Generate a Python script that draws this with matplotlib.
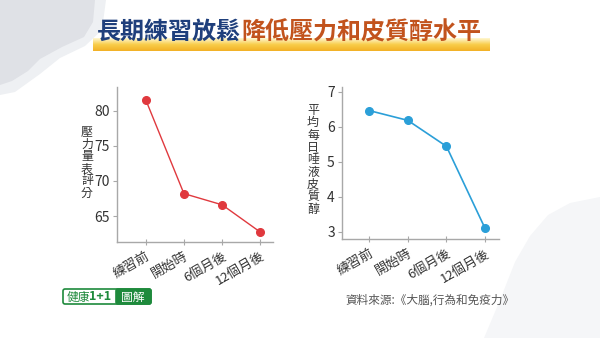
import matplotlib
matplotlib.use("Agg")
import matplotlib.pyplot as plt
import numpy as np
from matplotlib.patches import Polygon, FancyBboxPatch
from matplotlib.colors import LinearSegmentedColormap

plt.rcParams['font.family'] = ['Noto Sans CJK TC', 'DejaVu Sans']

categories = ["練習前", "開始時", "6個月後", "12個月後"]
stress_scores = [81.6, 68.2, 66.6, 62.7]
cortisol_levels = [6.46, 6.18, 5.44, 3.1]
stress_ticks = [65, 70, 75, 80]
cortisol_ticks = [3, 4, 5, 6, 7]
stress_label = "壓力量表評分"
cortisol_label = "平均每日唾液皮質醇"
title_a = "長期練習放鬆"
title_b = "降低壓力和皮質醇水平"
source = "資料來源:《大腦,行為和免疫力》"

W, H = 600, 338
fig = plt.figure(figsize=(6, 3.38), dpi=100)
fig.patch.set_facecolor('white')

def fx(x):
    return x / W
def fy(y):
    return 1 - y / H

# background decorations
bg = fig.add_axes([0, 0, 1, 1], zorder=-10)
bg.set_xlim(0, W); bg.set_ylim(H, 0); bg.axis('off')
light = [(0, 0), (106, 0), (102, 30), (85, 46), (60, 58), (40, 74), (15, 92), (0, 95)]
bg.add_patch(Polygon(light, closed=True, fc='#eef0f3', ec='none'))
dark = [(0, 0), (95, 0), (93, 22), (84, 37), (62, 47), (40, 59), (28, 71), (12, 81), (0, 85)]
bg.add_patch(Polygon(dark, closed=True, fc='#dfe1e6', ec='none'))
br = [(484, 338), (500, 300), (515, 262), (530, 236), (548, 215), (570, 203), (600, 197), (600, 338)]
bg.add_patch(Polygon(br, closed=True, fc='#f5f6f8', ec='none'))

# title highlight bar
bar = fig.add_axes([fx(93), fy(51), fx(397), 13 / H], zorder=-5)
grad = np.linspace(0, 1, 50).reshape(-1, 1)
cm = LinearSegmentedColormap.from_list('g', ['#fff7d2', '#f9cd4a', '#f2b126'])
bar.imshow(grad, aspect='auto', cmap=cm, extent=[0, 1, 0, 1], origin='upper')
bar.axis('off')

fig.text(fx(241), fy(32), title_a, ha='right', va='center', fontsize=17.3,
         fontweight='bold', color='#1f3f7c')
fig.text(fx(241), fy(32), title_b, ha='left', va='center', fontsize=17.3,
         fontweight='bold', color='#c2531d')

def style_axis(ax):
    for s in ['top', 'right']:
        ax.spines[s].set_visible(False)
    for s in ['left', 'bottom']:
        ax.spines[s].set_color('#a8a8a8')
        ax.spines[s].set_linewidth(1.0)
    ax.tick_params(axis='y', colors='#a8a8a8', labelcolor='#333333',
                   labelsize=10, length=3, width=0.8, pad=2)
    ax.tick_params(axis='x', colors='#a8a8a8', labelcolor='#333333',
                   labelsize=9.5, length=5, width=0.8, direction='inout', pad=3)
    ax.set_facecolor('none')
    xs = np.arange(len(categories))
    ax.set_xticks(xs)
    ax.set_xticklabels(categories, rotation=30, ha='right', va='top',
                       rotation_mode='anchor')

x = np.arange(len(categories))
ax1 = fig.add_axes([fx(117), fy(242), fx(273 - 117), (242 - 87) / H])
ax1.plot(x, stress_scores, color='#e0393e', lw=1.0, marker='o', ms=5.5)
ax1.set_xlim(-0.75, 3.33)
ax1.set_ylim(61.3, 83.4)
ax1.set_yticks(stress_ticks)
style_axis(ax1)

ax2 = fig.add_axes([fx(341.7), fy(239.3), fx(499 - 341.7), (239.3 - 86.7) / H])
ax2.plot(x, cortisol_levels, color='#2b9fd8', lw=1.2, marker='o', ms=5.5)
ax2.set_xlim(-0.71, 3.36)
ax2.set_ylim(2.79, 7.14)
ax2.set_yticks(cortisol_ticks)
style_axis(ax2)

# stacked vertical y labels
def vlabel(text, xc, ytop, pitch, size):
    for i, ch in enumerate(text):
        fig.text(fx(xc), fy(ytop + pitch * (i + 0.5)), ch, ha='center', va='center',
                 fontsize=size, color='#333333')

vlabel(stress_label, 87, 126, 12.2, 8.6)
vlabel(cortisol_label, 313, 104, 12.4, 8.6)

# source
fig.text(fx(345), fy(300), source, ha='left', va='center', fontsize=8.4, color='#555555')

# logo
green = '#1e8a3c'
logo = fig.add_axes([0, 0, 1, 1], zorder=5)
logo.set_xlim(0, W); logo.set_ylim(H, 0); logo.axis('off')
logo.add_patch(FancyBboxPatch((63, 289), 88, 15, boxstyle='round,pad=0,rounding_size=2',
                              fc='white', ec=green, lw=1.2))
logo.add_patch(FancyBboxPatch((116, 289), 35, 15, boxstyle='round,pad=0,rounding_size=2',
                              fc=green, ec=green, lw=1.2))
logo.text(67, 297, "健康", ha='left', va='center', fontsize=8.5, color=green)
logo.text(89, 297, "1+1", ha='left', va='center', fontsize=9, color=green, fontweight='bold')
logo.text(133, 297, "圖解", ha='center', va='center', fontsize=8.5, color='white')

fig.savefig('out.png', dpi=100)
